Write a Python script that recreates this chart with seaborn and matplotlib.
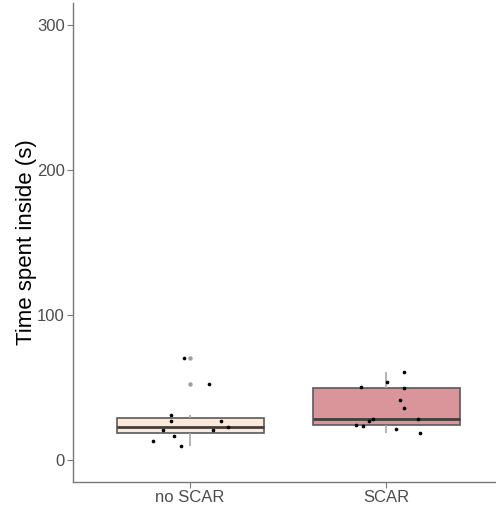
import numpy as np
import pandas as pd
import matplotlib
matplotlib.use("Agg")
import matplotlib.pyplot as plt
import seaborn as sns

# ---- data ----
groups = ["no SCAR", "SCAR"]
no_scar_values = [70.1, 52.6, 30.8, 26.9, 26.9, 22.8, 20.5, 20.7, 16.6, 13.1, 9.7]
no_scar_jitter = [-0.029, 0.098, -0.097, -0.097, 0.158, 0.195, -0.138, 0.116, -0.080, -0.187, -0.044]
scar_values = [60.9, 53.6, 50.6, 49.7, 41.6, 35.6, 28.0, 28.0, 27.1, 24.1, 23.7, 21.2, 18.4]
scar_jitter = [0.093, 0.003, -0.130, 0.094, 0.072, 0.094, -0.065, 0.164, -0.088, -0.151, -0.120, 0.052, 0.172]
y_ticks = [0, 100, 200, 300]
fill_colors = ["#FDE9D9", "#DA959B"]

df = pd.DataFrame({
    "group": ["no SCAR"] * len(no_scar_values) + ["SCAR"] * len(scar_values),
    "time": no_scar_values + scar_values,
    "jit": no_scar_jitter + scar_jitter,
})
df["xpos"] = df["group"].map({g: i for i, g in enumerate(groups)}) + df["jit"]

sns.set_theme(style="white")
plt.rcParams["font.family"] = ["Liberation Sans", "DejaVu Sans"]

fig = plt.figure(figsize=(4.96, 5.05), dpi=100)
ax = fig.add_axes([73 / 496, (505 - 481.75) / 505, (496 - 73) / 496, (481.75 - 3.25) / 505])

sns.boxplot(
    data=df, x="group", y="time", order=groups, hue="group", hue_order=groups,
    palette=fill_colors, saturation=1, legend=False, width=0.75, ax=ax,
    linecolor="#5a5a5a", linewidth=1.2, showcaps=False,
    whiskerprops={"color": "#a8a8a8", "linewidth": 1.2},
    medianprops={"color": "#3f3f3f", "linewidth": 2.0},
    flierprops={"marker": "o", "markerfacecolor": "#a0a0a0", "markeredgecolor": "none", "markersize": 3.2},
)

sns.scatterplot(data=df, x="xpos", y="time", color="black", s=7, linewidth=0, ax=ax, zorder=5)

ax.set_xlim(-0.597, 1.561)
ax.set_ylim(-15, 315)
ax.set_yticks(y_ticks)
ax.set_yticklabels([str(v) for v in y_ticks])
ax.set_xticks(range(len(groups)))
ax.set_xticklabels(groups)
ax.set_xlabel("")
ax.set_ylabel("Time spent inside (s)", fontsize=16, color="black")
ax.yaxis.set_label_coords(-0.085, 0.5)

for side in ["top", "right"]:
    ax.spines[side].set_visible(False)
for side in ["left", "bottom"]:
    ax.spines[side].set_color("#7a7a7a")
    ax.spines[side].set_linewidth(1.0)

ax.tick_params(axis="both", which="major", length=4, width=0.8, color="#7a7a7a",
               labelsize=12, labelcolor="#4d4d4d", pad=2, left=True, bottom=True)
ax.grid(False)

fig.savefig("out.png", dpi=100)
